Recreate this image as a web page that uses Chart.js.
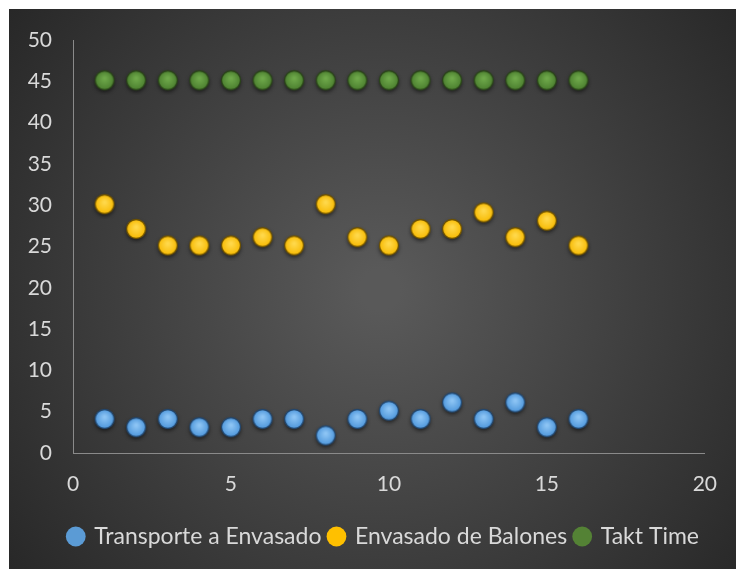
<!DOCTYPE html>
<html>
<head>
<meta charset="utf-8">
<script src="https://cdn.jsdelivr.net/npm/chart.js@4"></script>
<style>
  html, body { margin: 0; padding: 0; background: #fff; }
  #wrap { width: 736px; height: 569px; }
</style>
</head>
<body>
<div id="wrap"><canvas id="chart" width="736" height="569"></canvas></div>
<script>
const xValues = [1, 2, 3, 4, 5, 6, 7, 8, 9, 10, 11, 12, 13, 14, 15, 16];
const transporte = [4, 3, 4, 3, 3, 4, 4, 2, 4, 5, 4, 6, 4, 6, 3, 4];
const envasado = [30, 27, 25, 25, 25, 26, 25, 30, 26, 25, 27, 27, 29, 26, 28, 25];
const takt = [45, 45, 45, 45, 45, 45, 45, 45, 45, 45, 45, 45, 45, 45, 45, 45];
const seriesNames = ['Transporte a Envasado', 'Envasado de Balones', 'Takt Time'];
const xTicks = [0, 5, 10, 15, 20];
const yTicks = [0, 5, 10, 15, 20, 25, 30, 35, 40, 45, 50];

const FONT = 'Lato';

// marker like excel: glossy circle with dark rim and a soft shadow
function makeDot(light, base, rim) {
    const c = document.createElement('canvas');
    c.width = 28; c.height = 28;
    const g = c.getContext('2d');
    g.shadowColor = 'rgba(0,0,0,0.65)';
    g.shadowBlur = 4;
    g.shadowOffsetY = 2;
    const grad = g.createRadialGradient(14, 11, 1, 14, 13, 10);
    grad.addColorStop(0, light);
    grad.addColorStop(1, base);
    g.beginPath();
    g.arc(14, 13, 9.5, 0, Math.PI * 2);
    g.fillStyle = grad;
    g.fill();
    g.shadowColor = 'transparent';
    g.lineWidth = 1.3;
    g.strokeStyle = rim;
    g.stroke();
    return c;
}

const colors = ['#5b9bd5', '#ffc000', '#548235'];
const dots = [
    makeDot('#8cc4f4', '#4c95da', '#23476e'),
    makeDot('#ffd84a', '#f7b900', '#6e5200'),
    makeDot('#6ea84a', '#4a7d2e', '#2a4419')
];

function pts(ys) {
    return xValues.map((x, i) => ({x: x, y: ys[i]}));
}

const bgPlugin = {
    id: 'bg',
    beforeDraw(chart) {
        const ctx = chart.ctx;
        ctx.save();
        const grad = ctx.createRadialGradient(380, 290, 20, 380, 290, 480);
        grad.addColorStop(0, '#595959');
        grad.addColorStop(1, '#262626');
        ctx.fillStyle = grad;
        ctx.fillRect(9, 9, 727, 560);
        ctx.restore();
    }
};

const chart = new Chart(document.getElementById('chart'), {
    type: 'scatter',
    data: {
        datasets: [
            {label: seriesNames[0], data: pts(transporte), pointStyle: dots[0], backgroundColor: colors[0]},
            {label: seriesNames[1], data: pts(envasado), pointStyle: dots[1], backgroundColor: colors[1]},
            {label: seriesNames[2], data: pts(takt), pointStyle: dots[2], backgroundColor: colors[2]}
        ]
    },
    options: {
        responsive: false,
        animation: false,
        layout: {padding: {top: 40, right: 29, bottom: 11, left: 0}},
        scales: {
            x: {
                min: 0, max: 20,
                afterBuildTicks: s => { s.ticks = xTicks.map(v => ({value: v})); },
                afterFit: s => { s.height = 64; },
                grid: {display: false, drawTicks: false},
                border: {display: true, color: '#8a8a8a', width: 1},
                ticks: {color: '#d9d9d9', font: {family: FONT, size: 21}, padding: 19}
            },
            y: {
                min: 0, max: 50,
                afterBuildTicks: s => { s.ticks = yTicks.map(v => ({value: v})); },
                afterFit: s => { s.width = 73; },
                grid: {display: false, drawTicks: false},
                border: {display: true, color: '#8a8a8a', width: 1},
                ticks: {color: '#d9d9d9', font: {family: FONT, size: 21}, padding: 21}
            }
        },
        plugins: {
            tooltip: {enabled: false},
            legend: {
                position: 'bottom',
                align: 'end',
                labels: {
                    color: '#d9d9d9',
                    font: {family: FONT, size: 23},
                    usePointStyle: true,
                    boxWidth: 14,
                    boxHeight: 14,
                    padding: 8,
                    generateLabels: ch => ch.data.datasets.map((d, i) => ({
                        text: d.label,
                        fillStyle: colors[i],
                        strokeStyle: colors[i],
                        lineWidth: 0,
                        pointStyle: 'circle',
                        datasetIndex: i,
                        hidden: false,
                        fontColor: '#d9d9d9'
                    }))
                }
            }
        }
    },
    plugins: [bgPlugin]
});
</script>
</body>
</html>
